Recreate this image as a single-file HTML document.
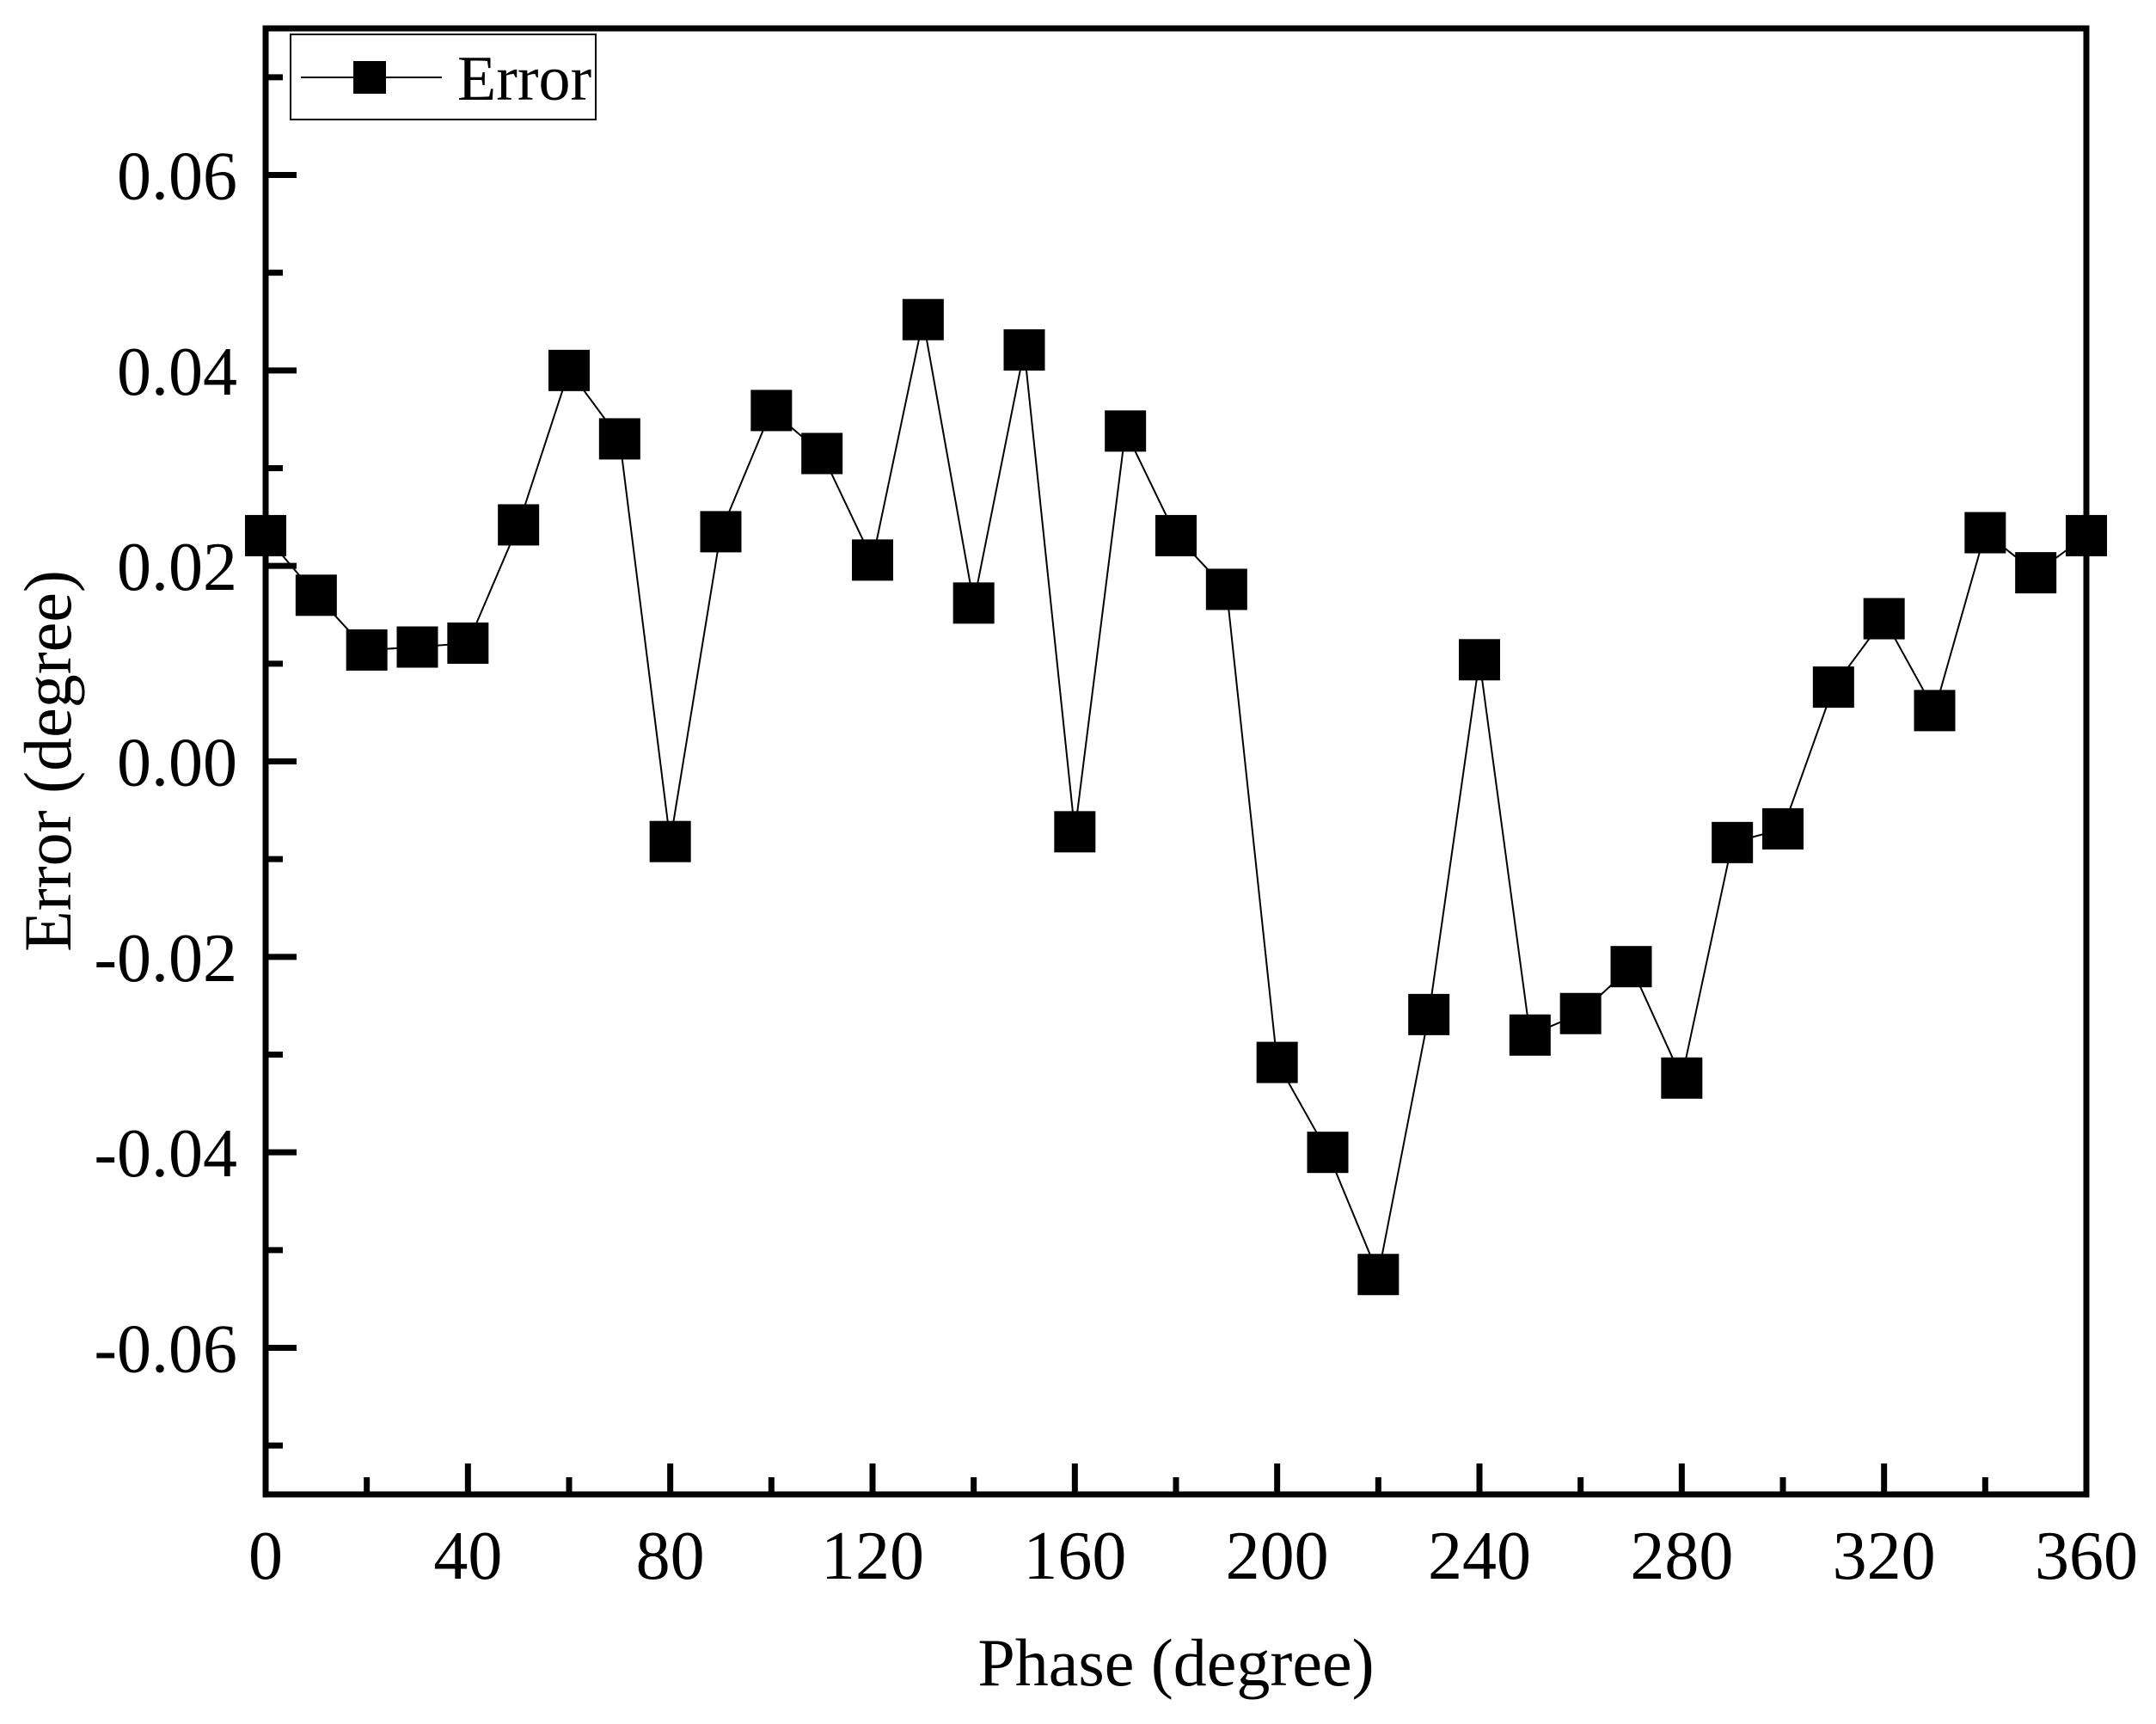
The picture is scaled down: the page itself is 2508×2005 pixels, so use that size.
<!DOCTYPE html>
<html><head><meta charset="utf-8"><style>
html,body{margin:0;padding:0;background:#fff;}
svg text{font-family:"Liberation Serif",serif;fill:#000;}
</style></head><body>
<svg id="chart" width="2508" height="2000" xmlns="http://www.w3.org/2000/svg">
<g id="grid"></g><g id="series"></g>
<rect x="309" y="33" width="2118" height="1705" fill="none" stroke="#000" stroke-width="7"/>
<g id="axes"></g>
<text x="1368" y="1960" font-size="78" text-anchor="middle">Phase (degree)</text>
<text transform="translate(82,885) rotate(-90)" font-size="78" text-anchor="middle">Error (degree)</text>
<g>
<rect x="338" y="40" width="355" height="99" fill="#fff" stroke="#000" stroke-width="2"/>
<line x1="350" y1="90" x2="514" y2="90" stroke="#000" stroke-width="2"/>
<rect x="411" y="71" width="38" height="38" fill="#000"/>
<text x="532" y="116" font-size="74">Error</text>
</g>
</svg>
<script>
const phases=[0,10,20,30,40,50,60,70,80,90,100,110,120,130,140,150,160,170,180,190,200,210,220,230,240,250,260,270,280,290,300,310,320,330,340,350,360];
const errors=[0.0231,0.017,0.0114,0.0117,0.0121,0.0242,0.040,0.033,-0.0082,0.0235,0.0359,0.0315,0.0206,0.0452,0.0162,0.0421,-0.0072,0.0338,0.0231,0.0176,-0.0308,-0.040,-0.0525,-0.0259,0.0104,-0.028,-0.0258,-0.021,-0.0324,-0.0083,-0.0069,0.0076,0.0146,0.0052,0.0234,0.0193,0.0231];
const xTicks=[0,40,80,120,160,200,240,280,320,360];
const yTicks=[-0.06,-0.04,-0.02,0.00,0.02,0.04,0.06];
const X0=309,X1=2427,Y0=1738,Y1=33,xmin=0,xmax=360,ymin=-0.075,ymax=0.075;
const sx=v=>X0+(v-xmin)/(xmax-xmin)*(X1-X0);
const sy=v=>Y0-(v-ymin)/(ymax-ymin)*(Y0-Y1);
const NS='http://www.w3.org/2000/svg';
const axes=document.getElementById('axes'),series=document.getElementById('series');
function mk(t,a,p){const e=document.createElementNS(NS,t);for(const k in a)e.setAttribute(k,a[k]);p.appendChild(e);return e;}
xTicks.forEach(v=>{
 const l=mk('line',{x1:sx(v),x2:sx(v),y1:Y0,y2:Y0-36,stroke:'#000','stroke-width':7},axes);
 
 
 const t=mk('text',{x:sx(v),y:1836,'font-size':80,'text-anchor':'middle'},axes);t.textContent=v;
 
 
});
for(let v=20;v<360;v+=40){
 const l=mk('line',{x1:sx(v),x2:sx(v),y1:Y0,y2:Y0-20,stroke:'#000','stroke-width':7},axes);
 
 
}
yTicks.forEach(v=>{
 const l=mk('line',{x1:X0,x2:X0+36,y1:sy(v),y2:sy(v),stroke:'#000','stroke-width':7},axes);
 
 
 const t=mk('text',{x:276,y:sy(v)+28,'font-size':80,'text-anchor':'end'},axes);t.textContent=v.toFixed(2);
 
 
});
for(let k=-7;k<=7;k+=2){const v=k/100;
 const l=mk('line',{x1:X0,x2:X0+20,y1:sy(v),y2:sy(v),stroke:'#000','stroke-width':7},axes);
 
 
}
const pl=mk('polyline',{points:phases.map((p,i)=>sx(p)+','+sy(errors[i])).join(' '),fill:'none',stroke:'#000','stroke-width':2},series);


phases.forEach((p,i)=>{
 const r=mk('rect',{x:sx(p)-24,y:sy(errors[i])-24,width:48,height:48,fill:'#000'},series);
 
 
});
</script>
</body></html>
